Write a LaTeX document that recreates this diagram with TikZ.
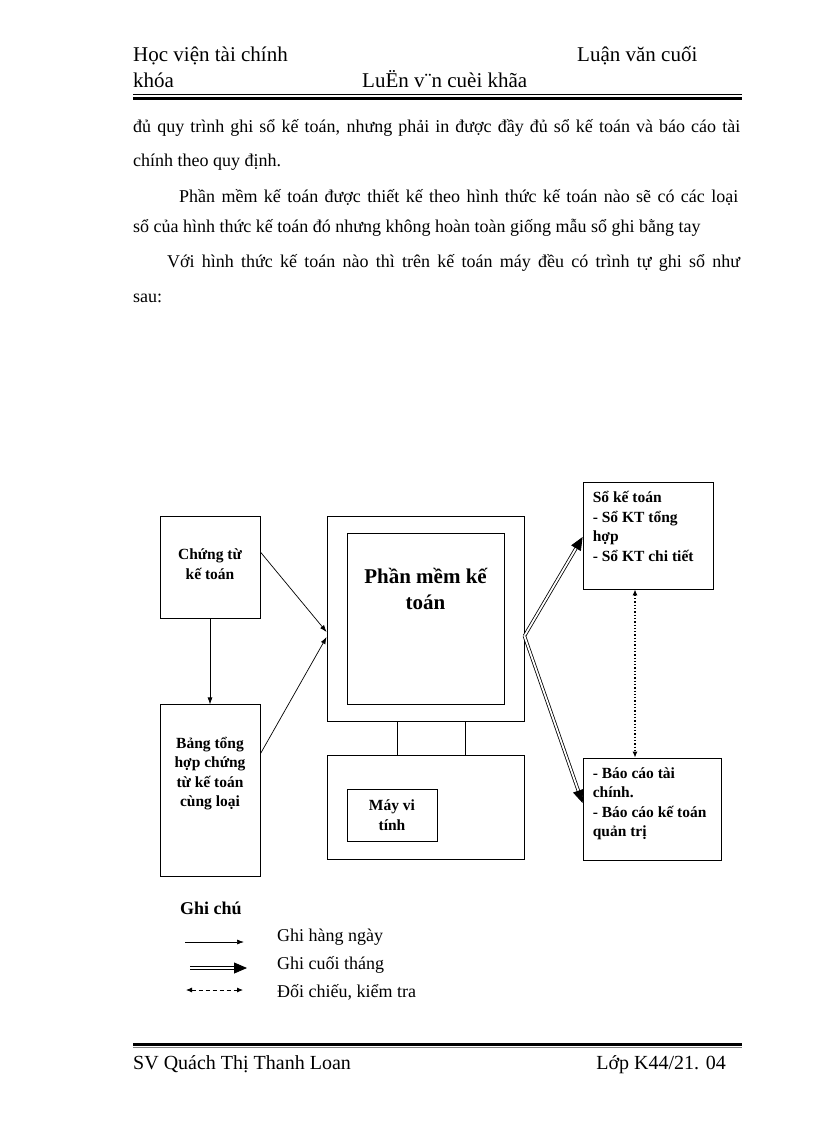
\documentclass[tikz,border=0pt]{standalone}
\usepackage{fontspec}
\setmainfont{Liberation Serif}
\usetikzlibrary{positioning,arrows.meta}

\tikzset{
  box/.style={draw, line width=0.8pt, inner sep=0pt},
  boxtext/.style={font=\fontsize{15.5}{19.5}\selectfont\bfseries, align=center, inner sep=0pt},
  listtext/.style={boxtext, align=left, anchor=west},
  pagetext/.style={anchor=west, inner sep=0pt, font=\fontsize{18}{20}\selectfont},
  headtext/.style={anchor=base west, inner sep=0pt, font=\fontsize{21}{24}\selectfont},
  daily/.style={line width=0.7pt, -{Latex[length=7pt,width=5pt]}},
  monthly/.style={double, double distance=1.8pt, line width=0.8pt, shorten >=7pt},
  monthlytip/.style={line width=0.8pt, dash pattern=on 0pt off 2000pt, -{Triangle[length=13pt,width=11pt]}},
  check/.style={dotted, line width=1.3pt, {Latex[length=6pt,width=5pt]}-{Latex[length=6pt,width=5pt]}},
}

\begin{document}
\begin{tikzpicture}[x=1pt, y=-1pt]
\useasboundingbox (0,0) rectangle (816,1123);

% header
\node[headtext] (Head1) at (133,62) {Học viện tài chính};
\node[headtext] (Head2) at (577,62) {Luận văn cuối};
\node[headtext] (Head3) at (133,88) {khóa};
\node[headtext] (Head4) at (362,88) {LuËn v¨n cuèi khãa};
\draw[line width=1pt] (133,94.5) -- (742,94.5);
\draw[line width=3pt] (133,98.5) -- (742,98.5);

% text above the chart
\node[pagetext] (Line1) at (133,128) {\makebox[607pt][s]{đủ quy trình ghi sổ kế toán, nhưng phải in được đầy đủ sổ kế toán và báo cáo tài}};
\node[pagetext] (Line2) at (133,162) {chính theo quy định.};
\node[pagetext] (Line3) at (179,197) {\makebox[559pt][s]{Phần mềm kế toán được thiết kế theo hình thức kế toán nào sẽ có các loại}};
\node[pagetext] (Line4) at (133,228) {sổ của hình thức kế toán đó nhưng không hoàn toàn giống mẫu sổ ghi bằng tay};
\node[pagetext] (Line5) at (167,263) {\makebox[573pt][s]{Với hình thức kế toán nào thì trên kế toán máy đều có trình tự ghi sổ như}};
\node[pagetext] (Line6) at (133,298) {sau:};

% input boxes
\node[box, minimum width=100pt, minimum height=102pt,
  label={[boxtext, yshift=3pt]center:Chứng từ\\kế toán}] (ChungTu) at (210,567) {};
\node[box, minimum width=100pt, minimum height=172pt, below=86pt of ChungTu,
  label={[boxtext, yshift=17pt]center:Bảng tổng\\hợp chứng\\từ kế toán\\cùng loại}] (BangTH) {};

% computer
\node[box, minimum width=197pt, minimum height=205pt] (Monitor) at (425.5,618.5) {};
\node[box, minimum width=157pt, minimum height=171pt,
  label={[boxtext, font=\fontsize{21}{26}\selectfont\bfseries, yshift=29.5pt]center:Phần mềm kế\\toán}] (Screen) at (Monitor.center) {};
\node[box, minimum width=197pt, minimum height=104pt, below=34pt of Monitor] (Base) {};
\node[box, minimum width=90pt, minimum height=52pt] (MayTinh) at (392,815) {};
\node[boxtext] at (MayTinh.center) {Máy vi\\tính};
\draw[line width=0.8pt] ([xshift=-28.5pt]Monitor.south) -- ([xshift=-28.5pt]Base.north);
\draw[line width=0.8pt] ([xshift=39.5pt]Monitor.south) -- ([xshift=39.5pt]Base.north);

% output boxes
\node[box, minimum width=130pt, minimum height=107pt,
  label={[listtext, xshift=10pt, yshift=9pt]west:Sổ kế toán\\- Sổ KT tổng\\hợp\\- Sổ KT chi tiết}] (SoKT) at (648,535.5) {};
\node[box, minimum width=138pt, minimum height=102pt,
  label={[listtext, xshift=10pt, yshift=5pt]west:- Báo cáo tài\\chính.\\- Báo cáo kế toán\\quản trị}] (BaoCao) at (652,809) {};

% connectors
\draw[daily] (ChungTu.south) -- (BangTH.north);
\draw[daily] ([yshift=15pt]ChungTu.east) -- ([yshift=-13.5pt]Monitor.west);
\draw[daily] ([yshift=37pt]BangTH.east) -- ([yshift=-18.5pt]Monitor.west);
\draw[monthly] ([yshift=-17.5pt]Monitor.east) -- ([yshift=-1.5pt]SoKT.west);
\draw[monthlytip] ([yshift=-17.5pt]Monitor.east) -- ([yshift=-1.5pt]SoKT.west);
\draw[monthly] ([yshift=-17.5pt]Monitor.east) -- ([yshift=6pt]BaoCao.west);
\draw[monthlytip] ([yshift=-17.5pt]Monitor.east) -- ([yshift=6pt]BaoCao.west);
\draw[check] ([xshift=-13pt]SoKT.south) -- ([xshift=-13pt]SoKT.south |- BaoCao.north);

% legend
\node[pagetext, font=\fontsize{18}{20}\selectfont\bfseries] (GhiChu) at (180,908) {Ghi chú};
\coordinate (DayA) at (185,942);
\coordinate (DayB) at (244,942);
\coordinate (MonA) at (190,968);
\coordinate (MonB) at (247,968);
\coordinate (ChkA) at (186,990);
\coordinate (ChkB) at (243,990);
\draw[daily] (DayA) -- (DayB);
\draw[monthly] (MonA) -- (MonB);
\draw[monthlytip] (MonA) -- (MonB);
\draw[line width=0.8pt, dash pattern=on 4pt off 3pt, {Latex[length=6pt,width=5pt]}-{Latex[length=6pt,width=5pt]}] (ChkA) -- (ChkB);
\node[pagetext] (LegDay) at (277,937) {Ghi hàng ngày};
\node[pagetext] (LegMon) at (277,965) {Ghi cuối tháng};
\node[pagetext] (LegChk) at (277,992) {Đối chiếu, kiểm tra};

% footer
\draw[line width=3pt] (133,1044.5) -- (742,1044.5);
\draw[line width=0.8pt, gray] (133,1047.8) -- (742,1047.8);
\node[headtext, font=\fontsize{20}{24}\selectfont] (Foot1) at (133,1069) {SV Quách Thị Thanh Loan};
\node[headtext, font=\fontsize{20}{24}\selectfont, anchor=base east] (Foot2) at (726,1069) {Lớp K44/21. 04};
\end{tikzpicture}
\end{document}
